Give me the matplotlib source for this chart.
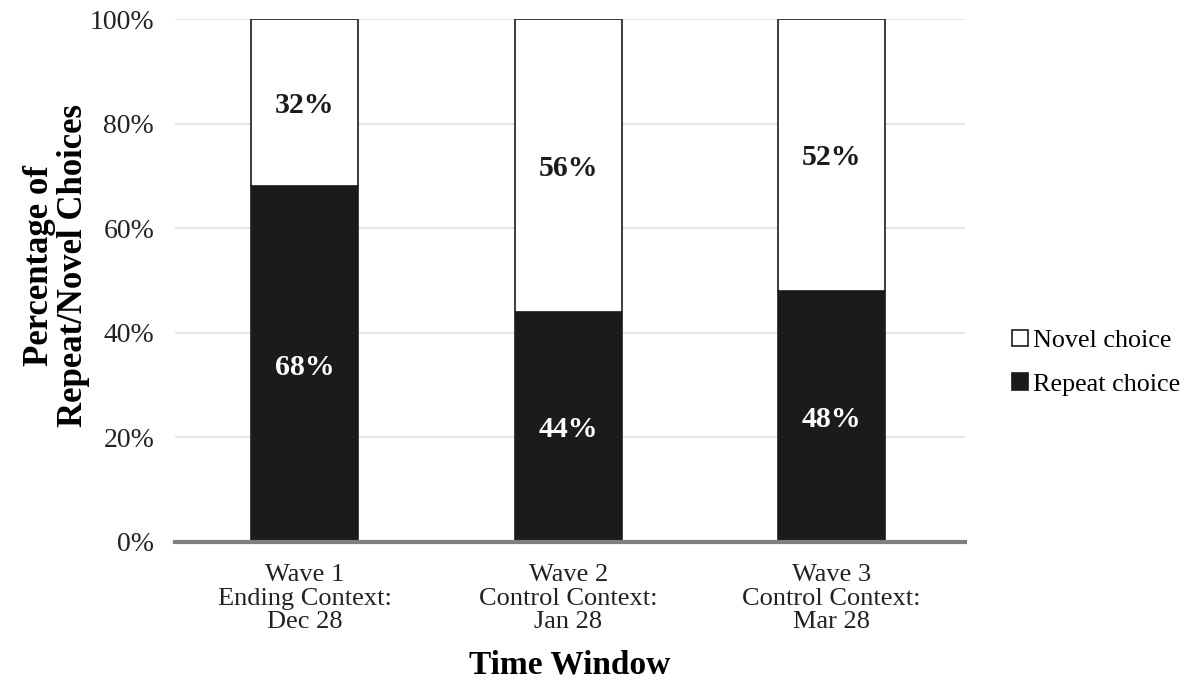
import matplotlib
matplotlib.use("Agg")
import matplotlib.pyplot as plt
from matplotlib.ticker import FuncFormatter

categories = ["Wave 1\nEnding Context:\nDec 28",
              "Wave 2\nControl Context:\nJan 28",
              "Wave 3\nControl Context:\nMar 28"]
repeat = [68, 44, 48]
novel = [32, 56, 52]

plt.rcParams['font.family'] = ['Liberation Serif', 'DejaVu Serif']

fig = plt.figure(figsize=(11.91, 6.92), dpi=100)
ax = fig.add_axes([0.147, 0.2168, 0.663, 0.7557])

x = range(len(categories))
w = 0.406
b1 = ax.bar(x, repeat, width=w, color='#1c1a1a', edgecolor='#1c1a1a', linewidth=1.2,
            label='Repeat choice', zorder=3)
b2 = ax.bar(x, novel, width=w, bottom=repeat, color='white', edgecolor='#1c1a1a',
            linewidth=1.2, label='Novel choice', zorder=3)

for i in x:
    ax.text(i, repeat[i] / 2, f"{repeat[i]}%", ha='center', va='center_baseline',
            color='white', fontsize=21.5, fontweight='bold', zorder=4)
    ax.text(i, repeat[i] + novel[i] / 2, f"{novel[i]}%", ha='center', va='center_baseline',
            color='#1c1a1a', fontsize=21.5, fontweight='bold', zorder=4)

ax.set_xlim(-0.493, 2.505)
ax.set_ylim(0, 100)
ax.set_yticks([0, 20, 40, 60, 80, 100])
ax.yaxis.set_major_formatter(FuncFormatter(lambda v, p: f"{int(v)}%"))
ax.set_xticks(list(x))
ax.set_xticklabels(categories, fontsize=19, color='#222222', linespacing=1.08)
ax.tick_params(axis='y', labelsize=20, colors='#222222', length=0, pad=15)
ax.tick_params(axis='x', length=0, pad=16)
ax.grid(axis='y', color='#e0e0e0', linewidth=1.2, zorder=0)
for s in ['left', 'right', 'top']:
    ax.spines[s].set_visible(False)
ax.spines['bottom'].set_color('#7f7f7f')
ax.spines['bottom'].set_linewidth(3)
ax.spines['bottom'].set_zorder(5)

ax.set_ylabel("Percentage of\nRepeat/Novel Choices", fontsize=25, fontweight='bold',
              linespacing=1.03)
ax.yaxis.set_label_coords(-0.108, 0.528)
ax.set_xlabel("Time Window", fontsize=24, fontweight='bold', labelpad=12)

leg = fig.legend(handles=[b2, b1], labels=['Novel choice', 'Repeat choice'],
                 loc='center left', bbox_to_anchor=(0.83, 0.476), frameon=False,
                 fontsize=18.8, handlelength=0.6, handleheight=0.6, handletextpad=0.2,
                 labelspacing=0.8)

fig.savefig("out.png", dpi=100)
